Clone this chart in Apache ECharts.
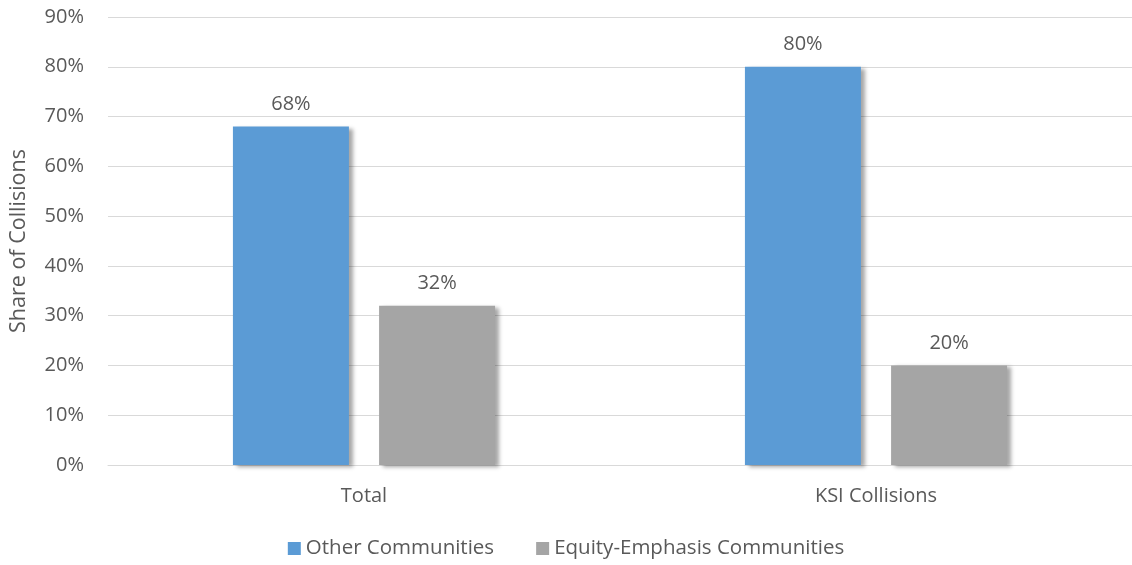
<!DOCTYPE html>
<html>
<head>
<meta charset="utf-8">
<script src="https://cdn.jsdelivr.net/npm/echarts@6/dist/echarts.min.js"></script>
<style>
  html, body { margin: 0; padding: 0; background: #fff; }
  #chart { width: 1132px; height: 565px; }
</style>
</head>
<body>
<div id="chart"></div>
<script>
  // categories and series values (share, %)
  const categories = ['Total', 'KSI Collisions']
  const otherCommunities = [68, 80]
  const equityCommunities = [32, 20]
  const yTicks = [0, 10, 20, 30, 40, 50, 60, 70, 80, 90]

  const font = '"Open Sans", "Liberation Sans", sans-serif'
  const textColor = '#595959'

  const chart = echarts.init(document.getElementById('chart'))

  const barShadow = {
    shadowColor: 'rgba(0,0,0,0.35)',
    shadowBlur: 4,
    shadowOffsetX: 4,
    shadowOffsetY: 2
  }

  chart.setOption({
    animation: false,
    grid: {
      left: 108,
      right: 0,
      top: 17,
      bottom: 100,
      containLabel: false,
      outerBoundsMode: 'none'
    },
    legend: {
      bottom: 1,
      left: 'center',
      itemWidth: 13,
      itemHeight: 13,
      itemGap: 42,
      icon: 'rect',
      textStyle: { fontFamily: font, fontSize: 20.5, color: textColor }
    },
    xAxis: {
      type: 'category',
      data: categories,
      axisTick: { show: false },
      axisLine: { lineStyle: { color: '#d9d9d9' } },
      axisLabel: { fontFamily: font, fontSize: 20, color: textColor, margin: 21 }
    },
    yAxis: {
      type: 'value',
      min: yTicks[0],
      max: yTicks[yTicks.length - 1],
      interval: 10,
      name: 'Share of Collisions',
      nameLocation: 'middle',
      nameGap: 78,
      nameTextStyle: { fontFamily: font, fontSize: 21.5, color: textColor },
      axisLabel: {
        fontFamily: font, fontSize: 20, color: textColor, margin: 24,
        formatter: v => v + '%'
      },
      splitLine: { lineStyle: { color: '#d9d9d9' } }
    },
    series: [
      {
        name: 'Other Communities',
        type: 'bar',
        data: otherCommunities,
        barWidth: 116,
        barGap: '26%',
        itemStyle: Object.assign({ color: '#5b9bd5' }, barShadow),
        label: {
          show: true, position: 'top', distance: 12,
          fontFamily: font, fontSize: 20, color: textColor,
          formatter: p => p.value + '%'
        }
      },
      {
        name: 'Equity-Emphasis Communities',
        type: 'bar',
        data: equityCommunities,
        barWidth: 116,
        itemStyle: Object.assign({ color: '#a5a5a5' }, barShadow),
        label: {
          show: true, position: 'top', distance: 12,
          fontFamily: font, fontSize: 20, color: textColor,
          formatter: p => p.value + '%'
        }
      }
    ]
  })
</script>
</body>
</html>
